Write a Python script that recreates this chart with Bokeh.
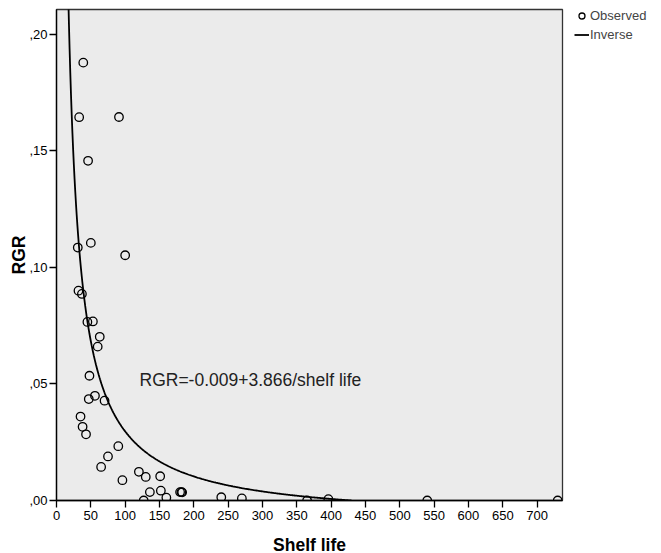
from bokeh.plotting import figure
from bokeh.models import Range1d, FixedTicker, CustomJSTickFormatter, Legend, LegendItem, Label
from bokeh.embed import file_html
from bokeh.resources import INLINE
import numpy as np

# Observed data (shelf life in days, RGR)
shelf_life = [39, 33, 91, 46, 31, 50, 100, 32, 37, 45, 53, 63, 60, 48, 47, 56, 70,
              35, 38, 43, 90, 75, 65, 96, 120, 130, 151, 136, 152, 160, 127, 180,
              182, 183, 240, 270, 365, 396, 540, 730]
rgr = [0.1878, 0.1644, 0.1645, 0.1457, 0.1085, 0.1105, 0.1052, 0.0900, 0.0886,
       0.0766, 0.0768, 0.0702, 0.0660, 0.0535, 0.0435, 0.0449, 0.0428, 0.0360,
       0.0316, 0.0284, 0.0233, 0.0189, 0.0144, 0.0087, 0.0123, 0.0101, 0.0104,
       0.0036, 0.0042, 0.0012, 0.0000, 0.0036, 0.0036, 0.0035, 0.0014, 0.0009,
       0.0000, 0.0006, 0.0000, 0.0000]

# Inverse model coefficients: RGR = b0 + b1 / shelf life
b0 = -0.009
b1 = 3.866
x_ticks = list(range(0, 701, 50))
y_ticks = [0.0, 0.05, 0.10, 0.15, 0.20]

curve_x = np.linspace(17, b1 / -b0, 400)
curve_y = b0 + b1 / curve_x

FONT = "Liberation Sans"

p = figure(frame_width=506, frame_height=491, output_backend="svg", toolbar_location=None,
           x_range=Range1d(0, 737), y_range=Range1d(0, 0.2106),
           min_border_left=56, min_border_top=9, min_border_right=99, min_border_bottom=52,
           background_fill_color="#EBEBEB", border_fill_color="white")
p.grid.visible = False
p.outline_line_color = "#333333"
p.outline_line_width = 1.3

p.xaxis.ticker = FixedTicker(ticks=x_ticks)
p.yaxis.ticker = FixedTicker(ticks=y_ticks)
p.yaxis.formatter = CustomJSTickFormatter(code="return ',' + tick.toFixed(2).split('.')[1];")

for ax in (p.xaxis, p.yaxis):
    ax.axis_line_color = "black"
    ax.axis_line_width = 1.3
    ax.major_tick_line_color = "black"
    ax.major_tick_line_width = 1.3
    ax.major_tick_out = 7
    ax.major_tick_in = 0
    ax.minor_tick_line_color = None
    ax.major_label_text_font = FONT
    ax.major_label_text_font_size = "13px"
    ax.major_label_text_color = "black"
    ax.axis_label_text_font = FONT
    ax.axis_label_text_font_size = "17.5px"
    ax.axis_label_text_font_style = "bold"
    ax.axis_label_text_color = "black"

p.xaxis.axis_label = "Shelf life"
p.yaxis.axis_label = "RGR"
p.xaxis.major_label_standoff = 3
p.yaxis.major_label_standoff = 2
p.xaxis.axis_label_standoff = 12
p.yaxis.axis_label_standoff = -3

obs = p.scatter(shelf_life, rgr, marker="circle", size=8.5, fill_color=None,
                line_color="black", line_width=1.3)
inv = p.line(curve_x, curve_y, line_color="black", line_width=1.8)

p.add_layout(Label(x=83, y=121, x_units="screen", y_units="screen",
                   text="RGR=-0.009+3.866/shelf life", text_font=FONT,
                   text_font_size="17.5px", text_color="#222222",
                   text_baseline="middle"))

legend = Legend(items=[LegendItem(label="Observed", renderers=[obs]),
                       LegendItem(label="Inverse", renderers=[inv])],
                location=(12, 456), glyph_width=15, glyph_height=19,
                label_height=19, label_standoff=1, spacing=0, padding=0, margin=0,
                border_line_color=None, background_fill_alpha=0,
                label_text_font=FONT, label_text_font_size="13px")
p.add_layout(legend, "right")

open("out.html", "w").write(file_html(p, INLINE))
